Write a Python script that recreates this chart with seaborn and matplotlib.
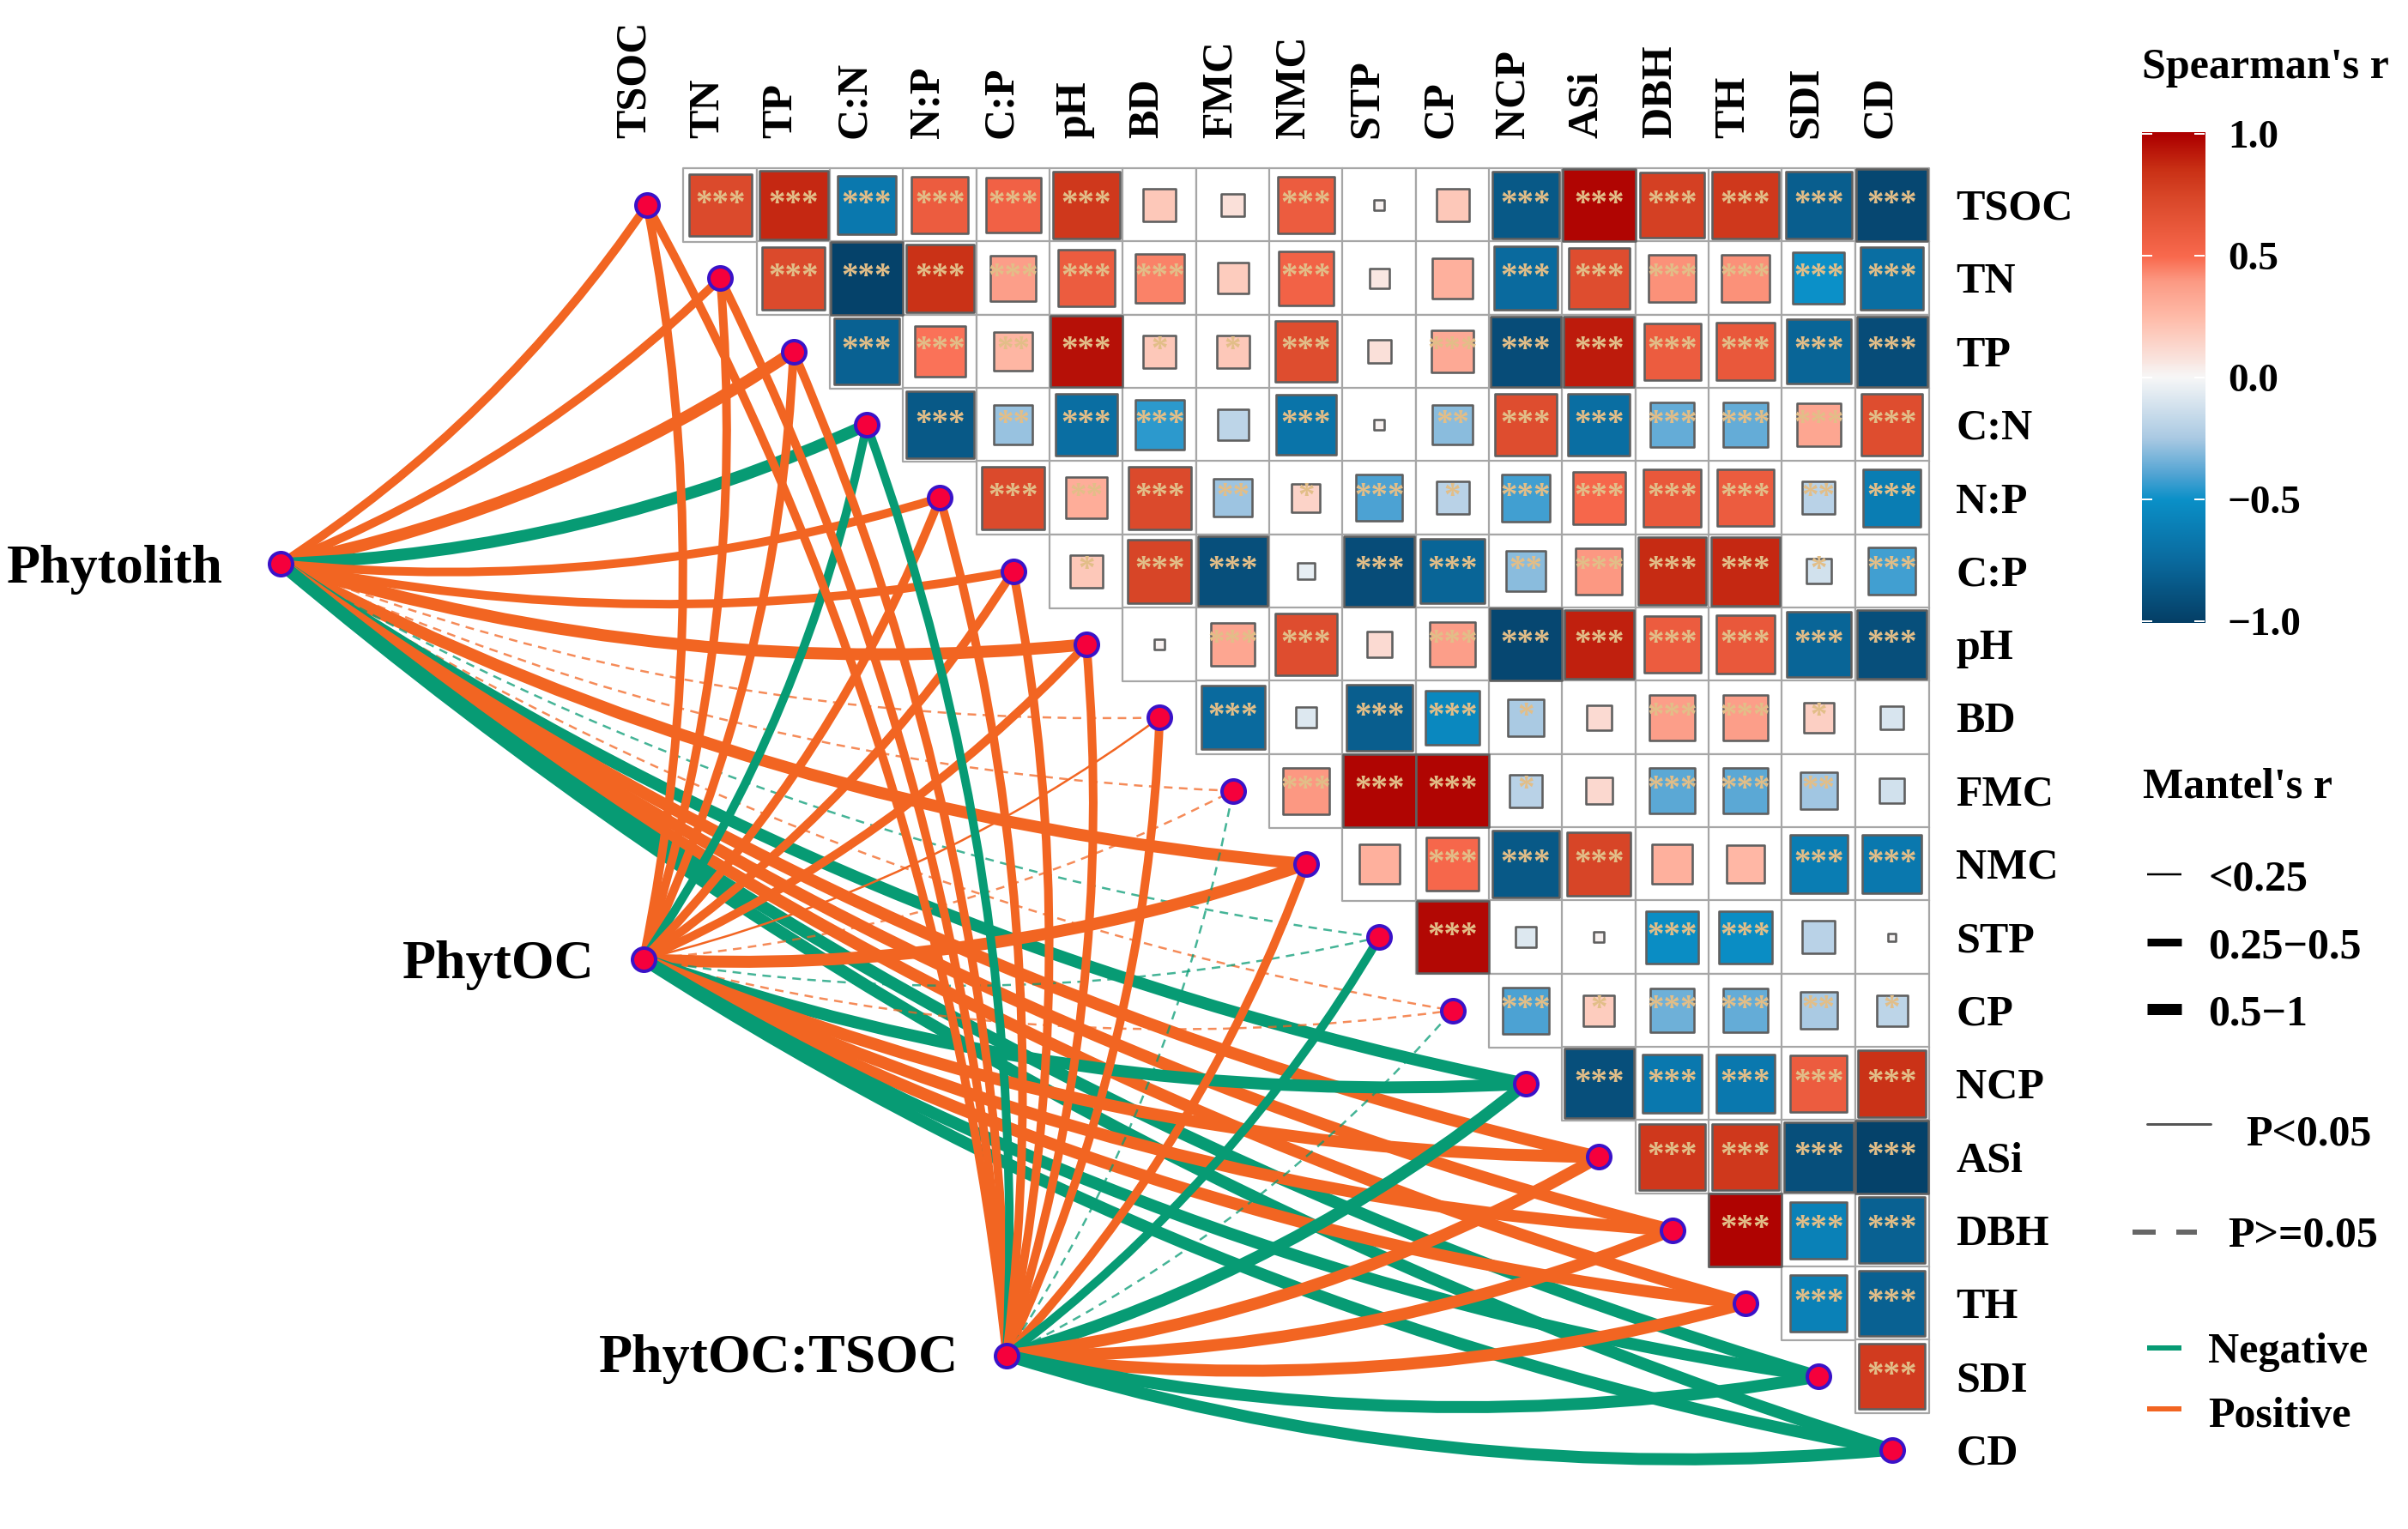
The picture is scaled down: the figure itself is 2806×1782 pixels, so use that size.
import numpy as np
import pandas as pd
import matplotlib
matplotlib.use("Agg")
import matplotlib.pyplot as plt
import seaborn as sns
from matplotlib.colors import LinearSegmentedColormap
from matplotlib.patches import PathPatch
from matplotlib.path import Path

variables = ["TSOC", "TN", "TP", "C:N", "N:P", "C:P", "pH", "BD", "FMC", "NMC",
             "STP", "CP", "NCP", "ASi", "DBH", "TH", "SDI", "CD"]

# Spearman's r, upper triangle, one list per row
r_tsoc = [.72, .88, -.65, .60, .56, .82, .20, .10, .60, .02, .20, -.85, .98, .78, .82, -.82, -.95]
r_tn = [.72, -.98, .85, .38, .60, .45, .18, .55, .07, .30, -.75, .70, .42, .42, -.50, -.72]
r_tp = [-.80, .48, .28, .95, .20, .20, .70, .10, .33, -.92, .92, .60, .62, -.78, -.92]
r_cn = [-.85, -.28, -.72, -.45, -.18, -.68, .02, -.30, .70, -.72, -.36, -.36, .35, .70]
r_np = [.72, .32, .72, -.27, .15, -.40, -.20, -.42, .52, .62, .60, -.20, -.62]
r_cp = [.20, .75, -.90, -.05, -.92, -.78, -.30, .40, .87, .88, -.12, -.42]
r_ph = [.02, .35, .70, .12, .38, -.95, .90, .60, .62, -.78, -.90]
r_bd = [-.75, -.08, -.82, -.55, -.25, .12, .38, .38, .17, -.10]
r_fmc = [.40, .98, .98, -.20, .13, -.38, -.38, -.26, -.12]
r_nmc = [.30, .52, -.85, .75, .30, .27, -.62, -.65]
r_stp = [.97, -.08, .02, -.52, -.52, -.20, .01]
r_crp = [-.40, .18, -.35, -.36, -.25, -.18]
r_ncp = [-.90, -.65, -.65, .60, .85]
r_asi = [.82, .82, -.90, -.98]
r_dbh = [.99, -.60, -.80]
r_th = [-.60, -.80]
r_sdi = [.80]
spearman_rows = [r_tsoc, r_tn, r_tp, r_cn, r_np, r_cp, r_ph, r_bd, r_fmc, r_nmc,
                 r_stp, r_crp, r_ncp, r_asi, r_dbh, r_th, r_sdi]

# number of significance stars for the same cells
s_tsoc = [3, 3, 3, 3, 3, 3, 0, 0, 3, 0, 0, 3, 3, 3, 3, 3, 3]
s_tn = [3, 3, 3, 3, 3, 3, 0, 3, 0, 0, 3, 3, 3, 3, 3, 3]
s_tp = [3, 3, 2, 3, 1, 1, 3, 0, 3, 3, 3, 3, 3, 3, 3]
s_cn = [3, 2, 3, 3, 0, 3, 0, 2, 3, 3, 3, 3, 3, 3]
s_np = [3, 2, 3, 2, 1, 3, 1, 3, 3, 3, 3, 2, 3]
s_cp = [1, 3, 3, 0, 3, 3, 2, 3, 3, 3, 1, 3]
s_ph = [0, 3, 3, 0, 3, 3, 3, 3, 3, 3, 3]
s_bd = [3, 0, 3, 3, 1, 0, 3, 3, 1, 0]
s_fmc = [3, 3, 3, 1, 0, 3, 3, 2, 0]
s_nmc = [0, 3, 3, 3, 0, 0, 3, 3]
s_stp = [3, 0, 0, 3, 3, 0, 0]
s_crp = [3, 1, 3, 3, 2, 1]
s_ncp = [3, 3, 3, 3, 3]
s_asi = [3, 3, 3, 3]
s_dbh = [3, 3, 3]
s_th = [3, 3]
s_sdi = [3]
star_rows = [s_tsoc, s_tn, s_tp, s_cn, s_np, s_cp, s_ph, s_bd, s_fmc, s_nmc,
             s_stp, s_crp, s_ncp, s_asi, s_dbh, s_th, s_sdi]

# Mantel links: sign (1 positive, -1 negative), r class (0 <0.25, 1 0.25-0.5, 2 0.5-1), p>=0.05 flag
groups = ["Phytolith", "PhytOC", "PhytOC:TSOC"]
sign_phytolith = [1, 1, 1, -1, 1, 1, 1, 1, 1, 1, -1, 1, -1, 1, 1, 1, -1, -1]
cls_phytolith = [1, 1, 2, 2, 1, 1, 2, 0, 0, 2, 0, 0, 2, 2, 2, 2, 2, 2]
ns_phytolith = [0, 0, 0, 0, 0, 0, 0, 1, 1, 0, 1, 1, 0, 0, 0, 0, 0, 0]
sign_phytoc = [1, 1, 1, -1, 1, 1, 1, 1, 1, 1, -1, 1, -1, 1, 1, 1, -1, -1]
cls_phytoc = [1, 1, 1, 1, 1, 1, 1, 0, 0, 2, 0, 0, 2, 2, 2, 2, 2, 2]
ns_phytoc = [0, 0, 0, 0, 0, 0, 0, 0, 1, 0, 1, 1, 0, 0, 0, 0, 0, 0]
sign_ratio = [1, 1, 1, -1, 1, 1, 1, 1, -1, 1, -1, -1, -1, 1, 1, 1, -1, -1]
cls_ratio = [1, 1, 1, 1, 1, 1, 1, 1, 0, 1, 1, 0, 2, 2, 2, 2, 2, 2]
ns_ratio = [0, 0, 0, 0, 0, 0, 0, 0, 1, 0, 0, 1, 0, 0, 0, 0, 0, 0]

colorbar_ticks = [1.0, 0.5, 0.0, -0.5, -1.0]

CELL = 85.33
X0, Y0 = 754, 240
W, H = 2806, 1783
DPI = 200
PT = 72 / DPI  # points per pixel
SERIF = "Liberation Serif"
ORANGE = "#f26522"
GREEN = "#079b74"
STAR = "#e2be88"
BOW = 0.10
group_anchor = [(-5.0, 4.9), (-0.05, 10.3), (4.91, 15.71)]
class_lw = [2.5 * PT, 10 * PT, 14 * PT]

cmap = LinearSegmentedColormap.from_list(
    "spearman",
    [(0, "#053f66"), (.125, "#0a6a9e"), (.25, "#0a90c8"), (.30, "#4fa3d3"), (.375, "#a9c9e3"),
     (.5, "#f7f7f7"), (.625, "#ffbcaa"), (.70, "#fc9a84"), (.75, "#f96a4e"),
     (.875, "#d84628"), (.93, "#c93015"), (1, "#ad0000")])

sns.set_theme(style="white")

rows = []
for i, (vals, stars) in enumerate(zip(spearman_rows, star_rows)):
    for j, (v, st) in enumerate(zip(vals, stars)):
        rows.append({"row": i, "col": i + 1 + j, "r": v, "stars": st})
df = pd.DataFrame(rows)
df["area"] = (CELL * PT) ** 2 * df["r"].abs()

fig = plt.figure(figsize=(W / DPI, H / DPI), dpi=DPI)
ax = fig.add_axes([0, 0, 1, 1])
ax.set_xlim(-X0 / CELL, (W - X0) / CELL)
ax.set_ylim((H - Y0) / CELL, -Y0 / CELL)
ax.axis("off")

# grid cells, then the squares
sns.scatterplot(data=df, x="col", y="row", s=(CELL * PT) ** 2, marker="s", color="white",
                edgecolor="#a6a6a6", linewidth=2.2 * PT, legend=False, ax=ax, zorder=2)
sns.scatterplot(data=df, x="col", y="row", hue="r", hue_norm=(-1, 1), palette=cmap, s=df["area"],
                marker="s", edgecolor="#5f5f5f", linewidth=2.6 * PT, legend=False, ax=ax, zorder=3)

for _, c in df[df["stars"] > 0].iterrows():
    ax.text(c["col"], c["row"] - 0.02, "*" * int(c["stars"]), color=STAR, ha="center", va="center",
            fontsize=14, family=SERIF, fontweight="bold", zorder=4)

# Mantel links, slightly bowed clockwise
link_sets = [(sign_phytolith, cls_phytolith, ns_phytolith),
             (sign_phytoc, cls_phytoc, ns_phytoc),
             (sign_ratio, cls_ratio, ns_ratio)]
for (gx, gy), (signs, classes, flags) in zip(group_anchor, link_sets):
    for k in range(len(variables)):
        dx, dy = k - gx, k - gy
        ctrl = (gx + dx / 2 - BOW * dy, gy + dy / 2 + BOW * dx)
        path = Path([(gx, gy), ctrl, (k, k)], [Path.MOVETO, Path.CURVE3, Path.CURVE3])
        col = ORANGE if signs[k] > 0 else GREEN
        if flags[k]:
            patch = PathPatch(path, fill=False, edgecolor=col, lw=class_lw[classes[k]],
                              linestyle=(0, (4, 3)), alpha=.75, zorder=5)
        else:
            patch = PathPatch(path, fill=False, edgecolor=col, lw=class_lw[classes[k]],
                              capstyle="butt", zorder=5)
        ax.add_patch(patch)

# nodes
node_x = list(range(len(variables))) + [p[0] for p in group_anchor]
node_y = list(range(len(variables))) + [p[1] for p in group_anchor]
sns.scatterplot(x=node_x, y=node_y, s=(27 * PT) ** 2, color="#f5003c", edgecolor="#3a12c8",
                linewidth=4 * PT, legend=False, ax=ax, zorder=6)

# everything else is placed in pixels
ov = fig.add_axes([0, 0, 1, 1], facecolor="none")
ov.set_xlim(0, W)
ov.set_ylim(H, 0)
ov.axis("off")


def label(x, y, s, size=18, **kw):
    kw.setdefault("va", "center")
    ov.text(x, y, s, fontsize=size, family=SERIF, fontweight="bold", color="black", **kw)


for k, name in enumerate(variables):
    label(X0 + k * CELL - 14, 161, name, rotation=90, ha="center", va="bottom")
    label(2279, Y0 + k * CELL + 4, name, ha="left")

label(8, 664, "Phytolith", size=23)
label(469, 1125, "PhytOC", size=23)
label(698, 1584, "PhytOC:TSOC", size=23)

# colour bar
cb = fig.add_axes([2496 / W, 1 - 727 / H, 73 / W, 572 / H])
cb.imshow(np.linspace(1.007, -1.0, 256)[:, None], cmap=cmap, vmin=-1, vmax=1, aspect="auto",
          extent=[0, 1, -1.007, 1.007])
cb.set_xlim(0, 1)
cb.axis("off")
for t in colorbar_ticks:
    cb.hlines(t, 0, 0.16, color="white", lw=2 * PT)
    cb.hlines(t, 0.84, 1, color="white", lw=2 * PT)
    y_px = 445 - t * 284.5
    label(2596, y_px, f"{t:.1f}".replace("-", "\u2212"), size=17)

label(2496, 79, "Spearman's r")
label(2497, 918, "Mantel's r")

key_rows = [(1020, "<0.25", 2.5), (1099, "0.25\u22120.5", 9), (1177, "0.5\u22121", 13)]
for y, txt, px in key_rows:
    ov.plot([2502, 2542], [y, y], color="black", lw=px * PT, solid_capstyle="butt")
    label(2573, y + 6, txt)

ov.plot([2502, 2576], [1311, 1311], color="#555555", lw=3 * PT)
label(2617, 1323, "P<0.05")
ov.plot([2485, 2560], [1437, 1437], color="#666666", lw=6 * PT, linestyle=(0, (4.5, 4)))
label(2596, 1441, "P>=0.05")

ov.plot([2502, 2542], [1572, 1572], color=GREEN, lw=6 * PT, solid_capstyle="butt")
label(2573, 1576, "Negative")
ov.plot([2502, 2542], [1643, 1643], color=ORANGE, lw=6 * PT, solid_capstyle="butt")
label(2573, 1651, "Positive")

fig.savefig("out.png", dpi=DPI)
